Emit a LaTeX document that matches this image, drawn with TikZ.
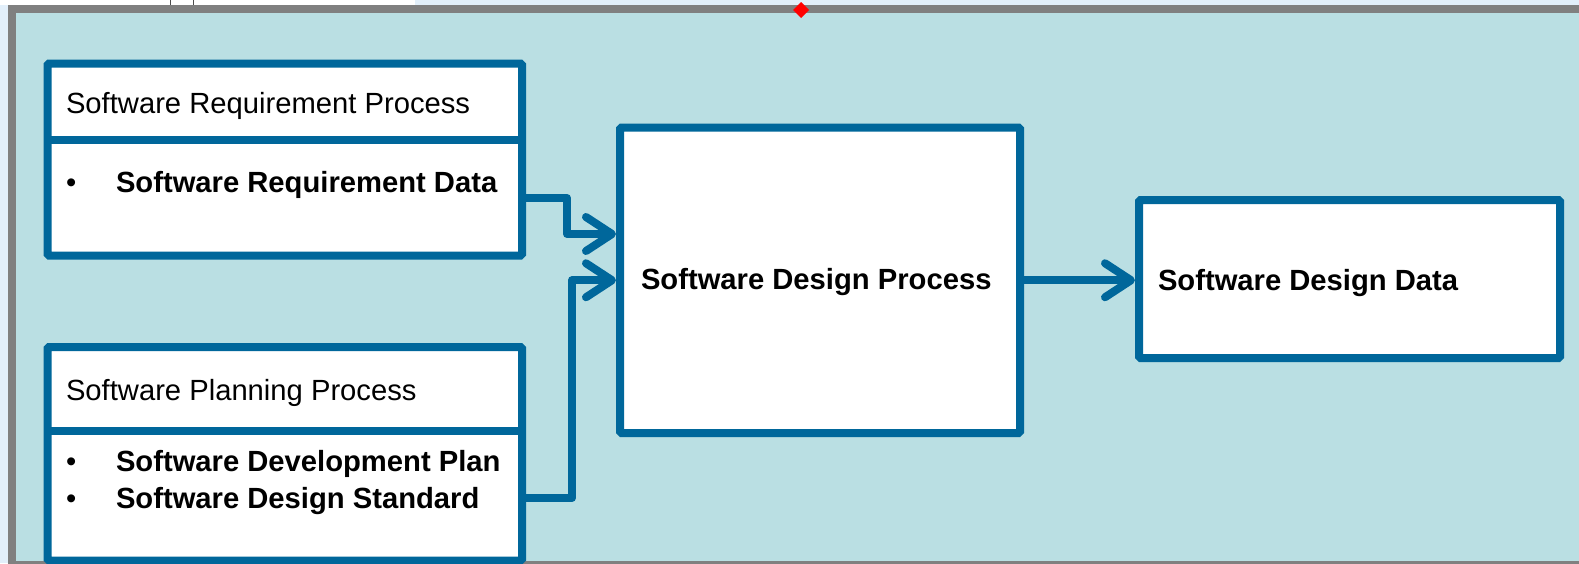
\documentclass[tikz,border=0pt]{standalone}
\usepackage{fontspec}
\setmainfont{Liberation Sans}
\usetikzlibrary{arrows.meta,calc}
\definecolor{slideblue}{RGB}{0,103,155}
\definecolor{panel}{RGB}{186,223,227}
\definecolor{framegray}{RGB}{128,128,128}
\definecolor{pale}{RGB}{226,239,250}
\begin{document}
\begin{tikzpicture}[x=1pt,y=-1pt,
  font=\fontsize{29.2}{35}\selectfont,
  box/.style={draw=slideblue, fill=white, line width=8pt, outer sep=0pt,
    inner sep=0pt, rounded corners=1.5pt, anchor=north west},
  divider/.style={draw=slideblue, line width=8pt},
  label/.style={anchor=base west, inner sep=0pt, outer sep=0pt},
  conn/.style={draw=slideblue, line width=8pt, line cap=round, line join=round,
    -{Straight Barb[length=26pt, width=34pt, round]}, shorten >=4pt}]
\useasboundingbox (0,0) rectangle (1579,563);
\clip (0,0) rectangle (1579,563);

% page behind the panel
\fill[pale] (0,0) rectangle (1579,563);
\fill[white] (0,0) rectangle (415,5);
\draw[black!70, line width=1pt] (170,0) -- (170,5) (193,0) -- (193,5);

% panel with its grey frame
\draw[framegray, fill=panel, line width=8pt] (12,9) rectangle (1610,565);
\fill[red] (801,2) -- (809,10) -- (801,18) -- (793,10) -- cycle;

% process boxes
\node[box, minimum width=474.5pt, minimum height=192pt] (box1) at (47.5,63.5) {};
\node[box, minimum width=474.5pt, minimum height=213.5pt] (box2) at (47.5,347) {};
\node[box, minimum width=400pt, minimum height=305.5pt] (box3) at (620,127.5) {};
\node[box, minimum width=421pt, minimum height=158pt] (box4) at (1139,200) {};

% header dividers
\draw[divider] ([yshift=-76pt]box1.north west) -- ([yshift=-76pt]box1.north east);
\draw[divider] ([yshift=-84pt]box2.north west) -- ([yshift=-84pt]box2.north east);

% texts
\node[label] (reqhead) at (66,113) {Software Requirement Process};
\node[label] (reqdot) at (66,192) {•};
\node[label] (reqdata) at (116,192) {\textbf{Software Requirement Data}};

\node[label] (planhead) at (66,400) {Software Planning Process};
\node[label] (plandot1) at (66,471) {•};
\node[label] (plandev) at (116,471) {\textbf{Software Development Plan}};
\node[label] (plandot2) at (66,508) {•};
\node[label] (planstd) at (116,508) {\textbf{Software Design Standard}};

\node[label] (design) at (641,289) {\textbf{Software Design Process}};
\node[label] (ddata) at (1158,290) {\textbf{Software Design Data}};

% connectors
\draw[conn] ([yshift=-134.5pt]box1.north east) -- ++(45,0) |- ([yshift=46.25pt]box3.west);
\draw[conn] ([yshift=-151pt]box2.north east) -- ++(50,0) |- (box3.west);
\draw[conn] (box3.east) -- (box3.east -| box4.west);
\end{tikzpicture}
\end{document}
